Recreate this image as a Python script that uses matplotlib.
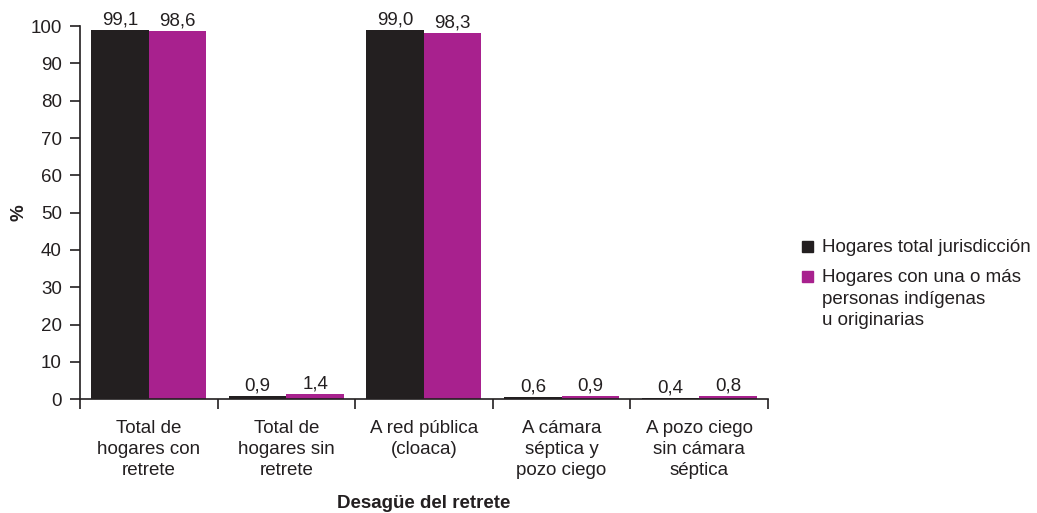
import matplotlib
matplotlib.use("Agg")
import matplotlib.pyplot as plt
import numpy as np
from matplotlib.patches import Rectangle

plt.rcParams['font.family'] = ['Liberation Sans', 'DejaVu Sans']

categories = ["Total de\nhogares con\nretrete", "Total de\nhogares sin\nretrete",
              "A red pública\n(cloaca)", "A cámara\nséptica y\npozo ciego",
              "A pozo ciego\nsin cámara\nséptica"]
series_names = ["Hogares total jurisdicción",
                "Hogares con una o más\npersonas indígenas\nu originarias"]
total = [99.1, 0.9, 99.0, 0.6, 0.4]
indig = [98.6, 1.4, 98.3, 0.9, 0.8]
yticks = [0, 10, 20, 30, 40, 50, 60, 70, 80, 90, 100]

c_black = "#231F20"
c_mag = "#A8218E"
tc = "#231F20"
FS = 13.5

fig = plt.figure(figsize=(10.37, 5.13), dpi=100)
ax = fig.add_axes([0.0771, 0.222, 0.6635, 0.727])

x = np.arange(len(categories))
w = 0.418
b1 = ax.bar(x - w/2, total, w, color=c_black)
b2 = ax.bar(x + w/2, indig, w, color=c_mag)

def fmt(v):
    return f"{v:.1f}".replace(".", ",")

for bars, vals in ((b1, total), (b2, indig)):
    for r, v in zip(bars, vals):
        ax.annotate(fmt(v), (r.get_x() + r.get_width()/2, v), xytext=(0, 1),
                    textcoords="offset points", ha="center", va="bottom",
                    fontsize=FS, color=tc, annotation_clip=False)

ax.set_xlim(-0.5, len(categories) - 0.5)
ax.set_ylim(0, 100)
ax.set_yticks(yticks)
ax.set_yticklabels([str(t) for t in yticks], fontsize=FS, color=tc)
ax.set_xticks(np.arange(-0.5, len(categories), 1.0))
ax.set_xticklabels([])
ax.set_xticks(x, minor=True)
ax.set_xticklabels(categories, minor=True, fontsize=FS, color=tc, linespacing=1.32)
ax.tick_params(axis='x', which='minor', length=0, pad=15)
ax.tick_params(axis='x', which='major', length=7, width=1.2, color=tc, direction='out')
ax.tick_params(axis='y', length=7, width=1.2, color=tc, direction='out', pad=6)

for s in ("top", "right"):
    ax.spines[s].set_visible(False)
for s in ("left", "bottom"):
    ax.spines[s].set_color(tc)
    ax.spines[s].set_linewidth(1.2)

W, H = 1037.0, 513.0
ax.set_ylabel("%", fontsize=FS, fontweight="bold", color=tc, labelpad=2)
fig.text(424 / W, 1 - 508 / H, "Desagüe del retrete", fontsize=FS, fontweight="bold",
         color=tc, ha="center", va="baseline")

# legend drawn manually so the swatch aligns with the first text line
leg_items = [(c_black, series_names[0], 241), (c_mag, series_names[1], 271)]
for col, label, ytop in leg_items:
    fig.patches.append(Rectangle((802 / W, 1 - (ytop + 11) / H), 11 / W, 11 / H,
                                 transform=fig.transFigure, color=col, figure=fig))
    fig.text(822 / W, 1 - (ytop - 2) / H, label, fontsize=FS, color=tc,
             ha="left", va="top", linespacing=1.36)

fig.savefig("out.png", dpi=100)
